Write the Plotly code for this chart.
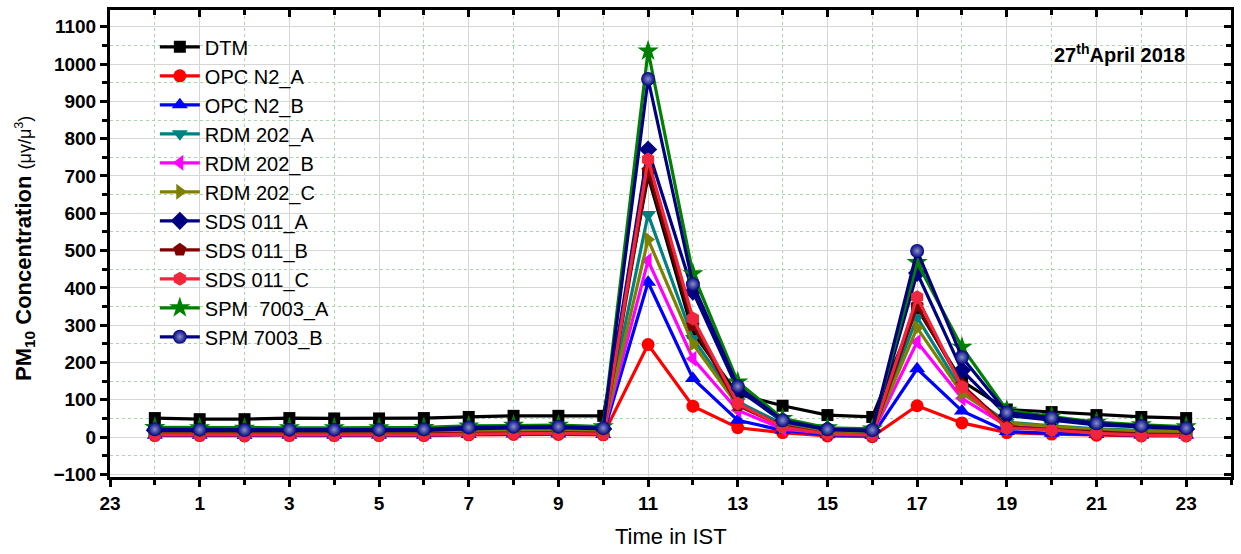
import plotly.graph_objects as go

hours = list(range(24))
tick_vals = [-1, 1, 3, 5, 7, 9, 11, 13, 15, 17, 19, 21, 23]
tick_text = ["23", "1", "3", "5", "7", "9", "11", "13", "15", "17", "19", "21", "23"]

dtm      = [51, 48, 48, 51, 50, 50, 51, 54, 57, 57, 57, 700, 280, 115, 84, 59, 54, 345, 150, 74, 67, 59, 54, 51]
opc_n2_a = [4, 4, 3, 4, 4, 4, 4, 6, 7, 7, 6, 248, 83, 25, 12, 3, 1, 84, 38, 12, 8, 5, 3, 3]
opc_n2_b = [5, 5, 4, 5, 5, 5, 5, 7, 8, 8, 7, 415, 157, 45, 18, 6, 4, 183, 70, 15, 10, 7, 5, 5]
rdm_a    = [15, 14, 13, 14, 14, 14, 15, 18, 20, 20, 18, 597, 264, 95, 35, 15, 12, 321, 125, 40, 30, 22, 18, 16]
rdm_b    = [10, 10, 9, 10, 10, 10, 10, 13, 15, 15, 13, 473, 210, 72, 22, 10, 8, 255, 104, 30, 22, 17, 13, 12]
rdm_c    = [12, 12, 11, 12, 12, 12, 12, 15, 17, 17, 15, 530, 250, 85, 30, 13, 10, 293, 117, 38, 28, 20, 16, 14]
sds_a    = [18, 17, 16, 17, 17, 17, 18, 22, 25, 25, 22, 771, 390, 128, 42, 20, 16, 440, 179, 58, 45, 33, 27, 22]
sds_b    = [8, 8, 7, 8, 8, 8, 8, 10, 12, 12, 10, 715, 300, 85, 30, 8, 6, 352, 140, 28, 20, 13, 8, 7]
sds_c    = [6, 6, 5, 6, 6, 6, 6, 8, 10, 10, 8, 744, 318, 90, 27, 8, 5, 375, 134, 24, 19, 10, 5, 4]
spm_a    = [26, 25, 24, 25, 25, 25, 26, 30, 32, 32, 28, 1035, 438, 148, 50, 25, 22, 468, 241, 72, 55, 40, 33, 28]
spm_b    = [21, 20, 19, 20, 20, 20, 21, 26, 28, 28, 24, 960, 410, 136, 45, 21, 19, 499, 214, 66, 52, 37, 30, 24]

series = [
    ("DTM", dtm, "#000000", "square", 12),
    ("OPC N2_A", opc_n2_a, "#FF0000", "circle", 13),
    ("OPC N2_B", opc_n2_b, "#0000FF", "triangle-up", 14),
    ("RDM 202_A", rdm_a, "#008080", "triangle-down", 14),
    ("RDM 202_B", rdm_b, "#FF00FF", "triangle-left", 14),
    ("RDM 202_C", rdm_c, "#808000", "triangle-right", 14),
    ("SDS 011_A", sds_a, "#000080", "diamond", 14),
    ("SDS 011_B", sds_b, "#800000", "pentagon", 14),
    ("SDS 011_C", sds_c, "#F0263C", "hexagon", 14),
    ("SPM  7003_A", spm_a, "#008000", "star", 16),
    ("SPM 7003_B", spm_b, "#000080", "circle", 14),
]

FONT = "Liberation Sans, Arial, sans-serif"
fig = go.Figure()
for name, vals, color, sym, size in series:
    marker = dict(symbol=sym, size=size, color=color, line=dict(width=0))
    if name == "SPM 7003_B":
        marker["gradient"] = dict(type="radial", color="#8892c8")
    fig.add_trace(go.Scatter(
        x=hours, y=vals, name=name, mode="lines+markers",
        line=dict(color=color, width=3.2), marker=marker,
    ))

# dummy trace to hold the top/right tick axes
fig.add_trace(go.Scatter(x=[None], y=[None], xaxis="x2", yaxis="y2",
                         showlegend=False, hoverinfo="skip"))

XR = [-1, 24]
YR = [-107, 1145]
minor_x = list(range(0, 25, 2))
fig.update_layout(
    width=1241, height=554,
    margin=dict(l=110, r=7, t=8, b=77),
    paper_bgcolor="white", plot_bgcolor="white",
    font=dict(family=FONT, color="black"),
    showlegend=True,
    legend=dict(x=0.04, y=0.963, xanchor="left", yanchor="top",
                bgcolor="rgba(0,0,0,0)", font=dict(size=20, family=FONT),
                itemwidth=40),
    xaxis=dict(range=XR, tickmode="array", tickvals=tick_vals, ticktext=tick_text,
               showgrid=True, gridcolor="#d6d6d6", gridwidth=1,
               ticks="outside", ticklen=7, tickwidth=3, tickcolor="black",
               showline=True, linecolor="black", linewidth=3, mirror=True,
               tickfont=dict(size=19, family=FONT, weight="bold"),
               zeroline=False,
               minor=dict(tickmode="array", tickvals=minor_x, ticks="outside", ticklen=5,
                          tickwidth=3, tickcolor="black", showgrid=True,
                          gridcolor="#a8d8a8", griddash="dot", gridwidth=1)),
    yaxis=dict(range=YR, tick0=0, dtick=100,
               showgrid=True, gridcolor="#d6d6d6", gridwidth=1,
               ticks="outside", ticklen=7, tickwidth=3, tickcolor="black",
               showline=True, linecolor="black", linewidth=3, mirror=True,
               tickfont=dict(size=19, family=FONT, weight="bold"),
               zeroline=False,
               minor=dict(tick0=50, dtick=100, ticks="outside", ticklen=5,
                          tickwidth=3, tickcolor="black", showgrid=True,
                          gridcolor="#a8d8a8", griddash="dot", gridwidth=1)),
    xaxis2=dict(range=XR, overlaying="x", side="top", tickmode="array",
                tickvals=tick_vals, showticklabels=False, showgrid=False,
                ticks="inside", ticklen=7, tickwidth=3, tickcolor="black",
                zeroline=False, showline=False,
                minor=dict(tickmode="array", tickvals=minor_x, ticks="inside",
                           ticklen=5, tickwidth=3, tickcolor="black", showgrid=False)),
    yaxis2=dict(range=YR, overlaying="y", side="right", tick0=0, dtick=100,
                showticklabels=False, showgrid=False,
                ticks="inside", ticklen=7, tickwidth=3, tickcolor="black",
                zeroline=False, showline=False,
                minor=dict(tick0=50, dtick=100, ticks="inside", ticklen=5,
                           tickwidth=3, tickcolor="black", showgrid=False)),
)

fig.add_annotation(xref="paper", yref="paper", x=0.961, y=0.906,
                   xanchor="right", yanchor="middle", showarrow=False,
                   text="<b>27<sup>th</sup>April 2018</b>",
                   font=dict(size=20, family=FONT, color="black"))
fig.add_annotation(xref="paper", yref="paper", x=0.5, y=-0.128,
                   xanchor="center", yanchor="middle", showarrow=False,
                   text="Time in IST", font=dict(size=22, family=FONT, color="black"))
fig.add_annotation(xref="paper", yref="paper", x=-0.076, y=0.49,
                   xanchor="center", yanchor="middle", showarrow=False, textangle=-90,
                   text="<b>PM<sub>10</sub> Concentration</b> <span style='font-size:18px'>(μγ/μ<sup>3</sup>)</span>",
                   font=dict(size=22, family=FONT, color="black"))

fig.write_html("out.html")
